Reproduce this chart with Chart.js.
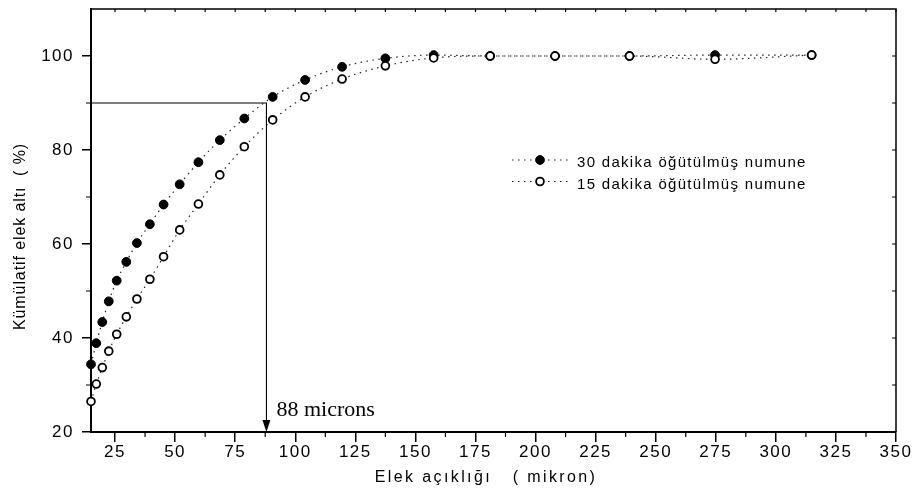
<!DOCTYPE html>
<html><head><meta charset="utf-8">
<script src="https://cdn.jsdelivr.net/npm/chart.js@4.4.1/dist/chart.umd.min.js"></script>
<style>html,body{margin:0;padding:0;background:#fff;}canvas{display:block;}</style>
</head><body>
<canvas id="c" width="913" height="502"></canvas>
<script>
// ---- data ----
const sieveSizes = [15, 17.2, 19.7, 22.4, 25.7, 29.7, 34.1, 39.5, 45.2, 51.9, 59.7, 68.6, 78.8, 90.6, 104.1, 119.5, 137.5, 157.6, 181.1, 208.1, 239.1, 274.7, 314.9];
const passing30 = [34.4, 38.9, 43.4, 47.8, 52.2, 56.2, 60.2, 64.2, 68.4, 72.7, 77.4, 82.1, 86.7, 91.3, 94.9, 97.7, 99.5, 100.2, 100, 100, 100, 100.2, 100.2];
const passing15 = [26.5, 30.2, 33.7, 37.2, 40.8, 44.5, 48.3, 52.5, 57.3, 63.0, 68.5, 74.7, 80.7, 86.4, 91.3, 95.1, 97.9, 99.6, 100, 100, 100, 99.3, 100.2];
const seriesLabels = ['30 dakika öğütülmüş numune', '15 dakika öğütülmüş numune'];
const xTickValues = [25, 50, 75, 100, 125, 150, 175, 200, 225, 250, 275, 300, 325, 350];
const xMinorTickValues = [37.5, 62.5, 87.5, 112.5, 137.5, 162.5, 187.5, 212.5, 237.5, 262.5, 287.5, 312.5, 337.5];
const yTickValues = [20, 40, 60, 80, 100];
const yMinorTickValues = [30, 50, 70, 90];
const xTitle = 'Elek açıklığı   ( mikron)';
const yTitle = 'Kümülatif elek altı  ( %)';
const markX = 88, markY = 90;
const markLabel = '88 microns';

const SANS = '"Liberation Sans", Arial, sans-serif';
const SERIF = '"Liberation Serif", "Times New Roman", serif';

const toPoints = (xs, ys) => xs.map((v, i) => ({x: v, y: ys[i]}));

const decor = {
  id: 'decor',
  beforeDraw(chart) { chart.ctx.letterSpacing = '1.5px'; },
  afterDraw(chart) {
    const {ctx, chartArea: a, scales: {x, y}} = chart;
    ctx.save();
    ctx.strokeStyle = '#000'; ctx.fillStyle = '#000';
    // frame (top / right)
    ctx.lineWidth = 1.5;
    ctx.beginPath();
    ctx.moveTo(a.left, a.top); ctx.lineTo(a.right, a.top); ctx.lineTo(a.right, a.bottom);
    ctx.stroke();
    // minor ticks + inward frame ticks
    ctx.lineWidth = 1.2;
    ctx.beginPath();
    xMinorTickValues.forEach(v => { const p = x.getPixelForValue(v); ctx.moveTo(p, a.bottom); ctx.lineTo(p, a.bottom + 5); });
    yMinorTickValues.forEach(v => { const p = y.getPixelForValue(v); ctx.moveTo(a.left, p); ctx.lineTo(a.left - 5, p); });
    [...xTickValues, ...xMinorTickValues].forEach(v => { const p = x.getPixelForValue(v); ctx.moveTo(p, a.top); ctx.lineTo(p, a.top + 3); });
    [...yTickValues, ...yMinorTickValues].forEach(v => { const p = y.getPixelForValue(v); ctx.moveTo(a.right, p); ctx.lineTo(a.right - 4, p); });
    ctx.stroke();

    // 88 micron reference lines with arrow
    const mx = x.getPixelForValue(markX), my = y.getPixelForValue(markY);
    ctx.lineWidth = 1.1;
    ctx.beginPath();
    ctx.moveTo(a.left, my); ctx.lineTo(mx, my); ctx.lineTo(mx, a.bottom - 10);
    ctx.stroke();
    ctx.beginPath();
    ctx.moveTo(mx, a.bottom); ctx.lineTo(mx - 4, a.bottom - 12); ctx.lineTo(mx + 4, a.bottom - 12); ctx.closePath();
    ctx.fill();
    ctx.letterSpacing = '0px';
    ctx.font = '22px ' + SERIF;
    ctx.textAlign = 'left'; ctx.textBaseline = 'alphabetic';
    ctx.fillText(markLabel, mx + 10, a.bottom - 16);

    // legend
    const metas = [chart.getDatasetMeta(0), chart.getDatasetMeta(1)];
    const rows = [160, 181.5];
    metas.forEach((m, i) => {
      const ds = chart.data.datasets[m.index];
      const ry = rows[i];
      ctx.save();
      ctx.strokeStyle = ds.borderColor; ctx.lineWidth = ds.borderWidth;
      ctx.setLineDash(ds.borderDash);
      ctx.beginPath(); ctx.moveTo(512, ry); ctx.lineTo(568, ry); ctx.stroke();
      ctx.restore();
      ctx.beginPath();
      ctx.arc(540, ry, ds.pointRadius, 0, Math.PI * 2);
      ctx.fillStyle = ds.pointBackgroundColor; ctx.fill();
      ctx.lineWidth = ds.pointBorderWidth; ctx.strokeStyle = ds.pointBorderColor; ctx.stroke();
      ctx.fillStyle = '#000';
      ctx.letterSpacing = '1.3px';
      ctx.font = '15px ' + SANS;
      ctx.textAlign = 'left'; ctx.textBaseline = 'middle';
      ctx.fillText(ds.label, 577, ry + 3);
    });

    // axis titles
    ctx.fillStyle = '#000';
    ctx.font = '16px ' + SANS;
    ctx.letterSpacing = '2.4px';
    ctx.textAlign = 'center'; ctx.textBaseline = 'alphabetic';
    ctx.fillText(xTitle, 486, 482);
    ctx.save();
    ctx.letterSpacing = '0.9px';
    ctx.translate(25, 236.5);
    ctx.rotate(-Math.PI / 2);
    ctx.textBaseline = 'alphabetic';
    ctx.fillText(yTitle, 0, 0);
    ctx.restore();
    ctx.restore();
  }
};

const tickFont = {family: SANS, size: 17};

new Chart(document.getElementById('c'), {
  type: 'line',
  data: {
    datasets: [
      {
        label: seriesLabels[0],
        data: toPoints(sieveSizes, passing30),
        order: 2,
        borderColor: '#222', borderWidth: 1.2, borderDash: [1.5, 4.5],
        pointRadius: 4.4, pointBackgroundColor: '#000', pointBorderColor: '#000', pointBorderWidth: 1,
        cubicInterpolationMode: 'monotone', fill: false, clip: false
      },
      {
        label: seriesLabels[1],
        data: toPoints(sieveSizes, passing15),
        order: 1,
        borderColor: '#222', borderWidth: 1.2, borderDash: [1.5, 4.5],
        pointRadius: 3.9, pointBackgroundColor: '#fff', pointBorderColor: '#000', pointBorderWidth: 1.8,
        cubicInterpolationMode: 'monotone', fill: false, clip: false
      }
    ]
  },
  options: {
    responsive: false,
    devicePixelRatio: 1,
    animation: false,
    events: [],
    layout: {padding: {top: 9, right: 17, left: 0, bottom: 0}},
    plugins: {legend: {display: false}, tooltip: {enabled: false}},
    scales: {
      x: {
        type: 'linear', min: 15, max: 350,
        afterFit(s) { s.height = 70; s.paddingLeft = 0; s.paddingRight = 0; },
        afterBuildTicks(s) { s.ticks = xTickValues.map(v => ({value: v})); },
        ticks: {color: '#000', font: tickFont, padding: 0, maxRotation: 0, autoSkip: false, callback: v => String(v)},
        grid: {drawOnChartArea: false, drawTicks: true, tickLength: 10, color: '#000', lineWidth: 1.5},
        border: {display: true, color: '#000', width: 2}
      },
      y: {
        type: 'linear', min: 20, max: 110,
        afterFit(s) { s.width = 91; s.paddingTop = 0; s.paddingBottom = 0; },
        afterBuildTicks(s) { s.ticks = yTickValues.map(v => ({value: v})); },
        ticks: {color: '#000', font: tickFont, padding: 8, autoSkip: false, callback: v => String(v)},
        grid: {drawOnChartArea: false, drawTicks: true, tickLength: 9, color: '#000', lineWidth: 1.5},
        border: {display: true, color: '#000', width: 2}
      }
    }
  },
  plugins: [decor]
});
</script>
</body></html>
